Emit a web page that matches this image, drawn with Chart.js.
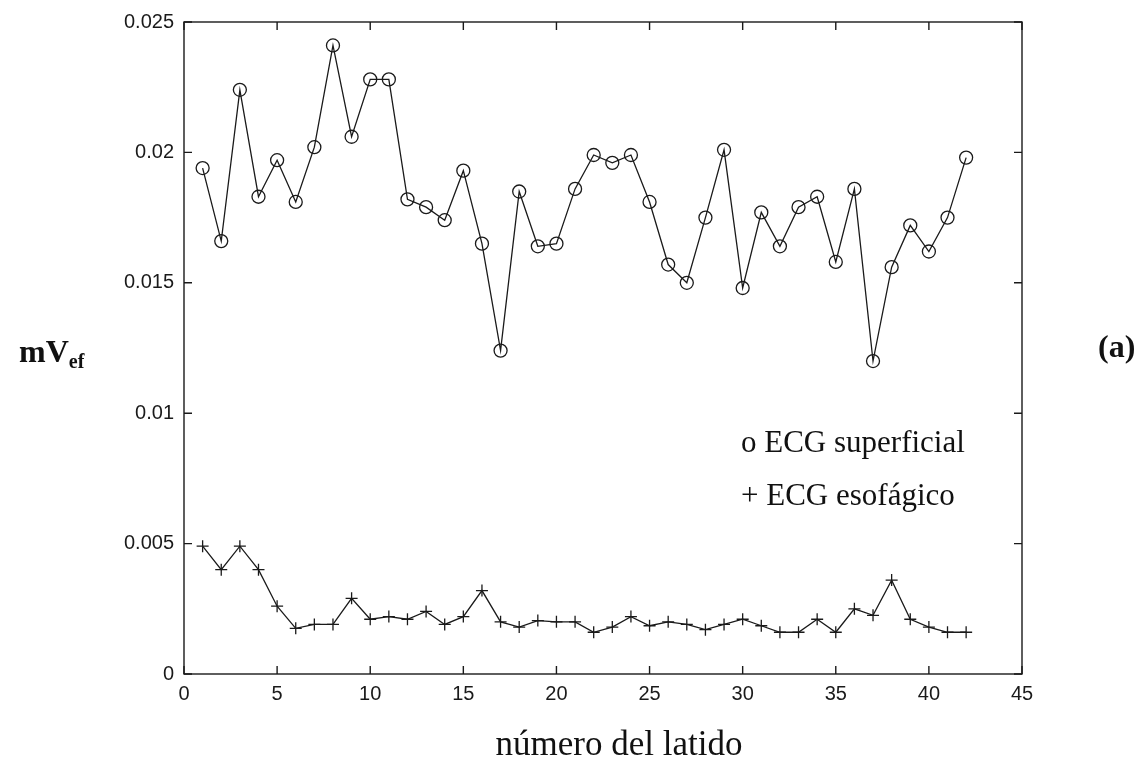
<!DOCTYPE html>
<html>
<head>
<meta charset="utf-8">
<script src="https://cdn.jsdelivr.net/npm/chart.js@4/dist/chart.umd.min.js"></script>
<style>
  body { margin: 0; background: #fff; }
  #wrap { position: relative; width: 1146px; height: 762px; }
  #chart { position: absolute; left: 0; top: 0; }
  .lbl { position: absolute; font-family: "Liberation Serif", "Times New Roman", serif; color: #111; line-height: 1; white-space: nowrap; }
  .ylab { left: 19px; top: 335px; font-size: 32px; font-weight: bold; }
  .ylab sub { font-size: 20px; vertical-align: -6px; }
  .tag { left: 1098px; top: 330px; font-size: 32px; font-weight: bold; }
  .leg { left: 741px; font-size: 31px; }
  .xlab { left: 619px; top: 726px; font-size: 35px; transform: translateX(-50%); }
</style>
</head>
<body>
<div id="wrap">
  <canvas id="chart" width="1146" height="762"></canvas>
  <div class="lbl ylab">mV<sub>ef</sub></div>
  <div class="lbl tag">(a)</div>
  <div class="lbl leg" style="top:426px">o ECG superficial</div>
  <div class="lbl leg" style="top:479px">+ ECG esofágico</div>
  <div class="lbl xlab">número del latido</div>
</div>
<script>
// beat number 1..42
const beats = Array.from({ length: 42 }, (_, i) => i + 1);

// surface ECG, effective voltage per beat (circles)
const superficial = [
  0.0194, 0.0166, 0.0224, 0.0183, 0.0197, 0.0181, 0.0202, 0.0241, 0.0206, 0.0228,
  0.0228, 0.0182, 0.0179, 0.0174, 0.0193, 0.0165, 0.0124, 0.0185, 0.0164, 0.0165,
  0.0186, 0.0199, 0.0196, 0.0199, 0.0181, 0.0157, 0.0150, 0.0175, 0.0201, 0.0148,
  0.0177, 0.0164, 0.0179, 0.0183, 0.0158, 0.0186, 0.0120, 0.0156, 0.0172, 0.0162,
  0.0175, 0.0198
];

// esophageal ECG (crosses)
const esofagico = [
  0.0049, 0.0040, 0.0049, 0.0040, 0.0026, 0.00175, 0.0019, 0.0019, 0.0029, 0.0021,
  0.0022, 0.0021, 0.0024, 0.0019, 0.0022, 0.0032, 0.0020, 0.0018, 0.00205, 0.0020,
  0.0020, 0.0016, 0.0018, 0.0022, 0.00185, 0.0020, 0.0019, 0.0017, 0.0019, 0.0021,
  0.00185, 0.0016, 0.0016, 0.0021, 0.0016, 0.0025, 0.00225, 0.0036, 0.0021, 0.0018,
  0.0016, 0.0016
];

const xTicks = [0, 5, 10, 15, 20, 25, 30, 35, 40, 45];
const yTicks = [0, 0.005, 0.01, 0.015, 0.02, 0.025];

const ink = "#1a1a1a";

// box around the plot with tick marks pointing inwards on all four sides
const frame = {
  id: "frame",
  afterDatasetsDraw(chart) {
    const { ctx, chartArea: a, scales } = chart;
    const len = 8;
    ctx.save();
    ctx.strokeStyle = ink;
    ctx.lineWidth = 1.4;
    ctx.strokeRect(a.left, a.top, a.right - a.left, a.bottom - a.top);
    ctx.beginPath();
    xTicks.forEach((v) => {
      const px = scales.x.getPixelForValue(v);
      ctx.moveTo(px, a.bottom); ctx.lineTo(px, a.bottom - len);
      ctx.moveTo(px, a.top); ctx.lineTo(px, a.top + len);
    });
    yTicks.forEach((v) => {
      const py = scales.y.getPixelForValue(v);
      ctx.moveTo(a.left, py); ctx.lineTo(a.left + len, py);
      ctx.moveTo(a.right, py); ctx.lineTo(a.right - len, py);
    });
    ctx.stroke();
    ctx.restore();
  },
};

const ctx = document.getElementById("chart").getContext("2d");

new Chart(ctx, {
  type: "line",
  data: {
    datasets: [
      {
        label: "ECG superficial",
        data: beats.map((b, i) => ({ x: b, y: superficial[i] })),
        borderColor: ink,
        borderWidth: 1.3,
        pointStyle: "circle",
        pointRadius: 6.5,
        pointBorderWidth: 1.3,
        pointBorderColor: ink,
        pointBackgroundColor: "rgba(0,0,0,0)",
        tension: 0,
        fill: false,
      },
      {
        label: "ECG esofágico",
        data: beats.map((b, i) => ({ x: b, y: esofagico[i] })),
        borderColor: ink,
        borderWidth: 1.3,
        pointStyle: "cross",
        pointRadius: 6,
        pointBorderWidth: 1.3,
        pointBorderColor: ink,
        tension: 0,
        fill: false,
      },
    ],
  },
  options: {
    responsive: false,
    animation: false,
    layout: { padding: { left: 0, top: 14, right: 124, bottom: 0 } },
    plugins: {
      legend: { display: false },
      tooltip: { enabled: false },
    },
    scales: {
      x: {
        type: "linear",
        min: 0,
        max: 45,
        afterFit: (s) => { s.height = 88; },
        afterBuildTicks: (s) => { s.ticks = xTicks.map((v) => ({ value: v })); },
        grid: { display: false, drawTicks: false },
        border: { display: false },
        ticks: {
          padding: 8,
          color: ink,
          font: { family: "'Liberation Sans', Arial, sans-serif", size: 20 },
        },
      },
      y: {
        min: 0,
        max: 0.025,
        afterFit: (s) => { s.width = 184; },
        afterBuildTicks: (s) => { s.ticks = yTicks.map((v) => ({ value: v })); },
        grid: { display: false, drawTicks: false },
        border: { display: false },
        ticks: {
          padding: 10,
          color: ink,
          font: { family: "'Liberation Sans', Arial, sans-serif", size: 20 },
          callback: (v) => String(Number(v.toFixed(3))),
        },
      },
    },
  },
  plugins: [frame],
});
</script>
</body>
</html>
